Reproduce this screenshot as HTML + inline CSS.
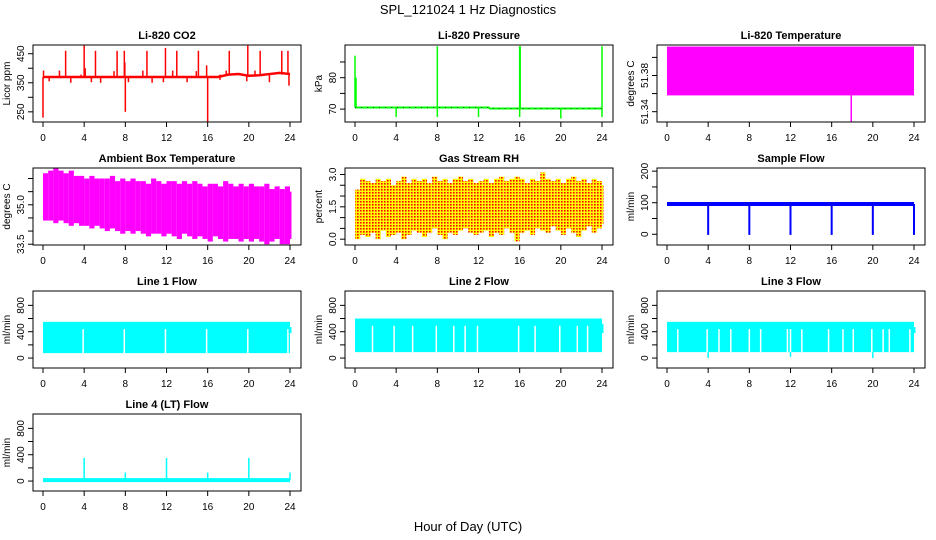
<!DOCTYPE html>
<html><head><meta charset="utf-8"><style>
body{margin:0;background:#fff;}
svg{display:block;font-family:"Liberation Sans",Arial,sans-serif;}
</style></head><body>
<svg id="c" width="936" height="540" viewBox="0 0 936 540" xmlns="http://www.w3.org/2000/svg">
<defs>
<pattern id="rhpat" width="3" height="3" patternUnits="userSpaceOnUse">
<rect width="3" height="3" fill="#ffff00"/><rect width="1.6" height="1.6" fill="#ff0000"/>
</pattern>
</defs>
<text x="468" y="14" text-anchor="middle" font-size="13">SPL_121024  1 Hz Diagnostics</text>
<text x="468" y="531" text-anchor="middle" font-size="13">Hour of Day (UTC)</text>
</svg>
<script>
// ---- data ----
const xTicks=[0,4,8,12,16,20,24];
// CO2
const co2Base=[[0,370],[17,370],[18,378],[19,380],[20,374],[21,376],[22,380],[23,384],[24,380]];
const co2Spikes=[[0.0,230],[0.05,392],[2.2,460],[4.0,478],[4.1,400],[5.1,460],[7.2,460],[7.9,460],[7.95,420],[8.0,250],[10.1,460],[11.9,470],[13.0,460],[15.1,460],[15.9,410],[16.0,215],[18.1,460],[19.9,478],[21.1,460],[23.2,460],[23.8,460],[23.9,340],[1.6,392],[3.7,378],[6.9,390],[9.7,392],[12.6,392],[14.9,390],[17.8,392],[20.6,392],[0.6,355],[2.7,350],[4.7,352],[5.6,350],[8.3,352],[10.6,350],[11.7,352],[14.0,352],[17.2,360],[19.8,355],[22.0,352]];
// Pressure
const presBase=[[0,70.5],[13,70.5],[13.1,70.2],[24,70.2]];
const presSpikes=[[0.0,87],[0.1,80],[8.0,90],[16.0,90],[16.05,90],[24.0,90],[4.0,67.5],[8.0,67.5],[12.0,67.5],[16.0,67.5],[20.0,67],[24.0,67.5]];
// Li-820 Temperature
const tempLow=51.358, tempHigh=51.412, tempSpikeX=17.9, tempSpikeV=51.329;
// Ambient box temperature envelopes (every 0.5 h)
const ambUpper=[36.2,36.3,36.4,36.3,36.2,36.3,36.1,36.1,36.0,36.1,36.0,36.0,36.0,36.1,35.9,36.0,35.9,36.0,35.9,35.9,35.8,36.0,35.9,35.8,35.9,35.9,35.8,35.9,35.8,35.9,35.8,35.7,35.8,35.8,35.7,35.9,35.8,35.7,35.8,35.7,35.8,35.7,35.7,35.8,35.6,35.7,35.6,35.7,35.5];
const ambLower=[34.4,34.4,34.3,34.4,34.3,34.2,34.3,34.2,34.2,34.1,34.2,34.1,34.0,34.1,34.0,33.9,34.0,33.9,34.0,33.9,33.8,33.9,33.9,33.8,33.9,33.8,33.7,33.9,33.8,33.7,33.8,33.7,33.6,33.8,33.7,33.6,33.7,33.7,33.6,33.7,33.6,33.7,33.6,33.5,33.6,33.7,33.5,33.5,33.7];
// Gas stream RH envelopes (every 0.5 h)
const rhUpper=[2.3,2.8,2.7,2.6,2.8,2.7,2.8,2.5,2.7,2.9,2.6,2.8,2.7,2.8,2.6,2.9,2.7,2.8,2.6,2.8,2.9,2.7,2.8,2.6,2.7,2.8,2.6,2.8,2.9,2.7,2.8,2.9,2.8,2.6,2.8,2.7,3.1,2.8,2.7,2.8,2.6,2.8,2.9,2.7,2.8,2.6,2.8,2.7,2.5];
const rhLower=[0.0,0.2,0.1,0.3,0.0,0.4,0.1,0.2,0.3,0.0,0.2,0.4,0.3,0.1,0.3,0.5,0.2,0.0,0.3,0.2,0.4,0.5,0.3,0.2,0.3,0.4,0.1,0.3,0.2,0.5,0.3,-0.1,0.3,0.4,0.2,0.5,0.4,0.3,0.6,0.4,0.2,0.5,0.3,0.1,0.4,0.6,0.3,0.5,0.7];
// Sample flow
const sfBase=96;
const sfDrops=[4,8,12,16,20,24];
// Line flows
const l1Low=75,l1High=550,l1Gaps=[3.9,7.9,11.9,15.9,19.9,23.8];
const l2Low=90,l2High=600,l2Gaps=[1.7,3.8,5.6,7.9,9.6,10.7,11.9,15.9,17.5,19.9,21.6,22.6];
const l3Low=90,l3High=550,l3Gaps=[1.05,3.9,5.05,6.2,8.0,9.1,11.7,12.0,13.1,15.7,17.1,18.1,19.9,21.0,21.6,23.6];
const l3Dips=[[4.0,0],[12.0,20],[20.0,0]];
const l4Base=15;
const l4Spikes=[[4,350],[8,130],[12,350],[16,130],[20,350],[24,130]];

// ---- layout ----
const svg=document.getElementById('c');
const NS='http://www.w3.org/2000/svg';
function el(tag,attrs,parent){const e=document.createElementNS(NS,tag);for(const k in attrs)e.setAttribute(k,attrs[k]);(parent||svg).appendChild(e);return e;}
const colX=[33,345,657], rowY=[45,168,291,414], W=268, H=77;
function panel(col,row,title,ylab,ymin,ymax,yticks,ylabels,name){
  const g=el('g',{});
  
  
  const x0=colX[col], y0=rowY[row];
  const xs=v=>x0+10+v*(W-21)/24;
  const ys=v=>y0+H-(v-ymin)/(ymax-ymin)*H;
  const plot=el('g',{},g);
  
  
  const box=el('rect',{x:x0,y:y0,width:W,height:H,fill:'none',stroke:'#000','stroke-width':1},g);
  
  
  const t=el('text',{x:x0+W/2,y:y0-6,'text-anchor':'middle','font-size':11,'font-weight':'bold'},g);
  t.textContent=title;
  
  
  const xa=el('g',{},g);
  
  
  xTicks.forEach(v=>{
    el('line',{x1:xs(v),x2:xs(v),y1:y0+H,y2:y0+H+5,stroke:'#000'},xa);
    const tl=el('text',{x:xs(v),y:y0+H+19,'text-anchor':'middle','font-size':10},xa);
    tl.textContent=String(v);
    
    
  });
  const ya=el('g',{},g);
  
  
  yticks.forEach((v,i)=>{
    el('line',{x1:x0,x2:x0-5,y1:ys(v),y2:ys(v),stroke:'#000'},ya);
    if(ylabels[i]){
      const yl=el('text',{x:x0-9,y:ys(v),'text-anchor':'middle','font-size':10,transform:`rotate(-90 ${x0-9} ${ys(v)})`},ya);
      yl.textContent=ylabels[i];
      
      
    }
  });
  const yt=el('text',{x:x0-23,y:y0+H/2,'text-anchor':'middle','font-size':10,transform:`rotate(-90 ${x0-23} ${y0+H/2})`},g);
  yt.textContent=ylab;
  
  
  return {plot,xs,ys};
}
function vline(p,x,v1,v2,color,w){el('line',{x1:p.xs(x),x2:p.xs(x),y1:p.ys(v1),y2:p.ys(v2),stroke:color,'stroke-width':w||1.5},p.plot);}
function polyline(p,pts,color,w){el('polyline',{points:pts.map(q=>p.xs(q[0])+','+p.ys(q[1])).join(' '),fill:'none',stroke:color,'stroke-width':w||2},p.plot);}

// CO2
let p=panel(0,0,'Li-820 CO2','Licor ppm',215,480,[250,300,350,400,450],['250','','350','','450'],'co2');
polyline(p,co2Base,'#ff0000',2.5);
co2Spikes.forEach(s=>{const b=s[0]>=17?378:370;vline(p,s[0],b,s[1],'#ff0000',1.5);});
// Pressure
p=panel(1,0,'Li-820 Pressure','kPa',65.9,90.4,[70,75,80,85],['70','','80',''],'pressure');
polyline(p,presBase,'#00ff00',2);
presSpikes.forEach(s=>vline(p,s[0],s[0]<13?70.5:70.2,s[1],'#00ff00',1.5));
el('polyline',{points:presBase.map(q=>p.xs(q[0])+','+p.ys(q[1])).join(' '),fill:'none',stroke:'#000','stroke-width':0.6,'stroke-dasharray':'1 5'},p.plot);
// Temperature
p=panel(2,0,'Li-820 Temperature','degrees C',51.3286,51.4137,[51.34,51.36,51.38,51.40],['51.34','','51.38',''],'li820-temp');
el('rect',{x:p.xs(0),y:p.ys(tempHigh),width:p.xs(24)-p.xs(0),height:p.ys(tempLow)-p.ys(tempHigh),fill:'#ff00ff'},p.plot);
vline(p,tempSpikeX,tempLow,tempSpikeV,'#ff00ff',1.5);
// Ambient
p=panel(0,1,'Ambient Box Temperature','degrees C',33.47,36.4,[33.5,34,34.5,35,35.5,36],['33.5','','','35.0','',''],'ambient-temp');
ambUpper.forEach((u,i)=>{const x=i*0.5,x2=Math.min(24,x+0.5);const a=p.xs(x),b=p.xs(x2)+0.01;el('rect',{x:a,y:p.ys(u),width:Math.max(1.5,b-a),height:p.ys(ambLower[i])-p.ys(u),fill:'#ff00ff'},p.plot);});
// RH
p=panel(1,1,'Gas Stream RH','percent',-0.27,3.3,[0,0.5,1,1.5,2,2.5,3],['0.0','','','1.5','','','3.0'],'gas-rh');
rhUpper.forEach((u,i)=>{const x=i*0.5,x2=Math.min(24,x+0.5);const a=p.xs(x),b=p.xs(x2);el('rect',{x:a,y:p.ys(u),width:Math.max(1.5,b-a),height:p.ys(rhLower[i])-p.ys(u),fill:'url(#rhpat)'},p.plot);});
// Sample flow
p=panel(2,1,'Sample Flow','ml/min',-34,210,[0,50,100,150,200],['0','','100','','200'],'sample-flow');
polyline(p,[[0,sfBase],[24,sfBase]],'#0000ff',4);
sfDrops.forEach(d=>vline(p,d,sfBase,-2,'#0000ff',2));
// Line flows
function flowPanel(col,row,title,name,lo,hi,gaps){
  const q=panel(col,row,title,'ml/min',-151,1018,[0,200,400,600,800],['0','','400','','800'],name);
  el('rect',{x:q.xs(0),y:q.ys(hi),width:q.xs(24)-q.xs(0),height:q.ys(lo)-q.ys(hi),fill:'#00ffff'},q.plot);
  gaps.forEach(gp=>vline(q,gp,lo,hi-110,'#ffffff',1.5));
  return q;
}
p=flowPanel(0,2,'Line 1 Flow','line1-flow',l1Low,l1High,l1Gaps);
vline(p,24,380,470,'#00ffff',3);
p=flowPanel(1,2,'Line 2 Flow','line2-flow',l2Low,l2High,l2Gaps);
vline(p,24,380,520,'#00ffff',3);
p=flowPanel(2,2,'Line 3 Flow','line3-flow',l3Low,l3High,l3Gaps);
l3Dips.forEach(d=>vline(p,d[0],l3Low,d[1],'#00ffff',1.5));
vline(p,24,380,470,'#00ffff',3);
// Line 4
p=panel(0,3,'Line 4 (LT) Flow','ml/min',-151,1018,[0,200,400,600,800],['0','','400','','800'],'line4-flow');
polyline(p,[[0,l4Base],[24,l4Base]],'#00ffff',4);
l4Spikes.forEach(s=>vline(p,s[0],l4Base,s[1],'#00ffff',1.5));
</script>
</body></html>
